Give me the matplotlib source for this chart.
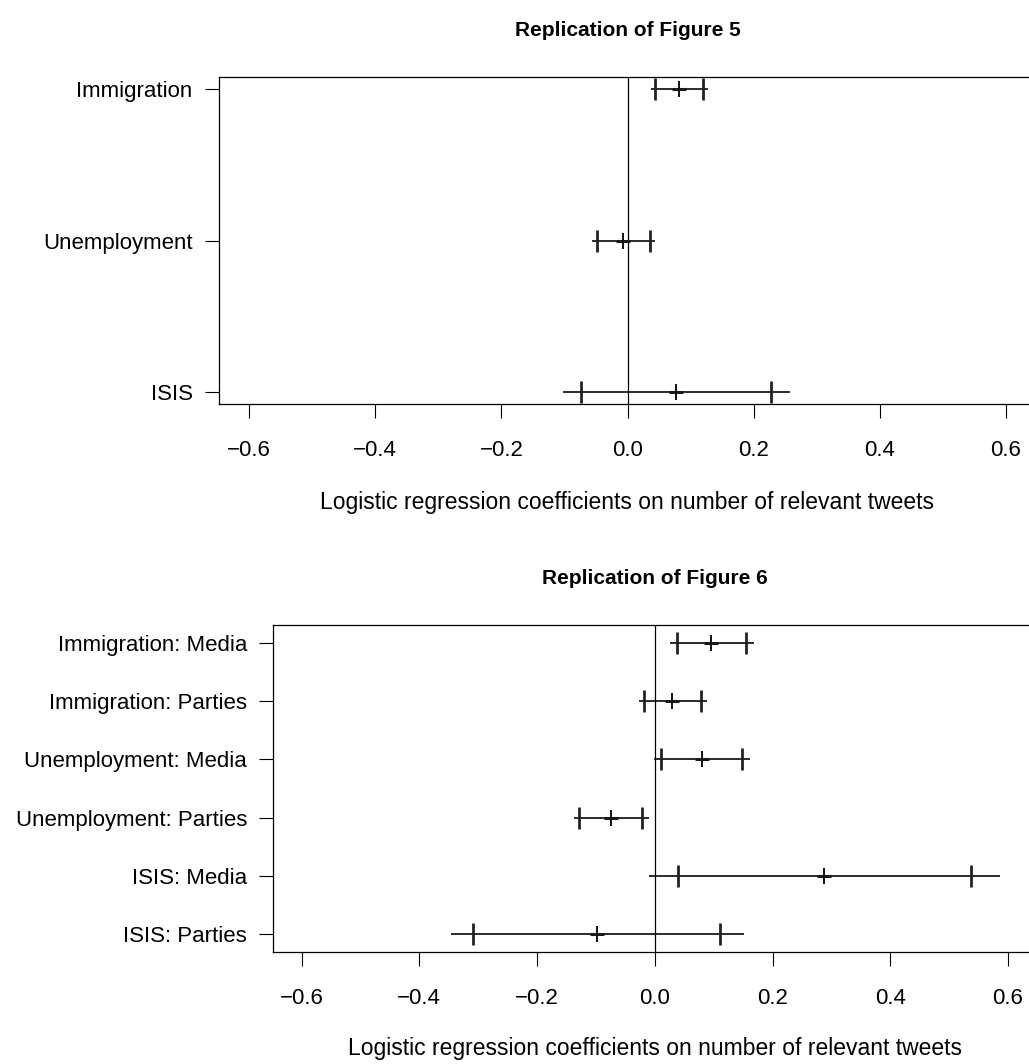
import matplotlib
matplotlib.use("Agg")
import matplotlib.pyplot as plt

plt.rcParams["font.family"] = ["Liberation Sans", "DejaVu Sans"]

# Figure 5: coefficient estimates with 90% and 95% intervals
fig5_labels = ["Immigration", "Unemployment", "ISIS"]
fig5_est = [0.082, -0.007, 0.077]
fig5_lo90 = [0.044, -0.049, -0.074]
fig5_hi90 = [0.119, 0.035, 0.228]
fig5_lo95 = [0.037, -0.057, -0.102]
fig5_hi95 = [0.127, 0.043, 0.257]

# Figure 6: split by media and parties
fig6_labels = ["Immigration: Media", "Immigration: Parties", "Unemployment: Media",
               "Unemployment: Parties", "ISIS: Media", "ISIS: Parties"]
fig6_est = [0.096, 0.030, 0.080, -0.074, 0.288, -0.099]
fig6_lo90 = [0.037, -0.018, 0.011, -0.128, 0.040, -0.308]
fig6_hi90 = [0.155, 0.078, 0.148, -0.021, 0.537, 0.111]
fig6_lo95 = [0.026, -0.027, -0.002, -0.138, -0.010, -0.347]
fig6_hi95 = [0.168, 0.089, 0.162, -0.010, 0.586, 0.151]

xticks = [-0.6, -0.4, -0.2, 0.0, 0.2, 0.4, 0.6]
xtick_labels = ["\u22120.6", "\u22120.4", "\u22120.2", "0.0", "0.2", "0.4", "0.6"]
xlabel = "Logistic regression coefficients on number of relevant tweets"

W, H = 1029, 1064
fig = plt.figure(figsize=(W / 100, H / 100), dpi=100)

FS = 16


def coef_panel(rect, labels, est, lo90, hi90, lo95, hi95, ylim):
    ax = fig.add_axes(rect)
    n = len(labels)
    ys = list(range(n, 0, -1))
    ax.axvline(0, color="black", lw=0.9, zorder=1)
    for y, e, l9, h9, l5, h5 in zip(ys, est, lo90, hi90, lo95, hi95):
        ax.plot([l5, h5], [y, y], color="#1a1a1a", lw=1.3, solid_capstyle="butt", zorder=2)
        ax.plot([e], [y], marker="_", ms=10, mew=2.2, color="#1a1a1a", zorder=3)
        ax.plot([l9, h9], [y, y], ls="none", marker="|", ms=15.5, mew=2.0, color="#222222", zorder=3)
        ax.plot([e], [y], ls="none", marker="|", ms=11, mew=1.4, color="#111111", zorder=4)
    ax.set_xlim(-0.648, 0.648)
    ax.set_ylim(*ylim)
    ax.set_yticks(ys)
    ax.set_yticklabels(labels, fontsize=FS)
    ax.set_xticks(xticks)
    ax.set_xticklabels(xtick_labels, fontsize=FS)
    ax.tick_params(axis="x", direction="out", length=10, width=0.8, pad=16)
    ax.tick_params(axis="y", direction="out", length=10, width=0.8, pad=9)
    for s in ax.spines.values():
        s.set_linewidth(0.9)
    return ax


# top panel: box from x=219..1036 px, y=77..404 px
coef_panel([219 / W, 1 - 404 / H, (1036 - 219) / W, (404 - 77) / H],
           fig5_labels, fig5_est, fig5_lo90, fig5_hi90, fig5_lo95, fig5_hi95,
           (0.92, 3.08))
fig.text(627.5 / W, 1 - 31 / H, "Replication of Figure 5", ha="center", va="center",
         fontsize=15, fontweight="bold")
fig.text(627.5 / W, 1 - 503 / H, xlabel, ha="center", va="center", fontsize=16.5)

# bottom panel: box from x=273..1036 px, y=625..952 px
coef_panel([273.3 / W, 1 - 952 / H, (1036.3 - 273.3) / W, (952 - 625) / H],
           fig6_labels, fig6_est, fig6_lo90, fig6_hi90, fig6_lo95, fig6_hi95,
           (0.7, 6.3))
fig.text(654.8 / W, 1 - 578 / H, "Replication of Figure 6", ha="center", va="center",
         fontsize=15, fontweight="bold")
fig.text(654.8 / W, 1 - 1049 / H, xlabel, ha="center", va="center", fontsize=16.5)

fig.savefig("out.png", dpi=100)
